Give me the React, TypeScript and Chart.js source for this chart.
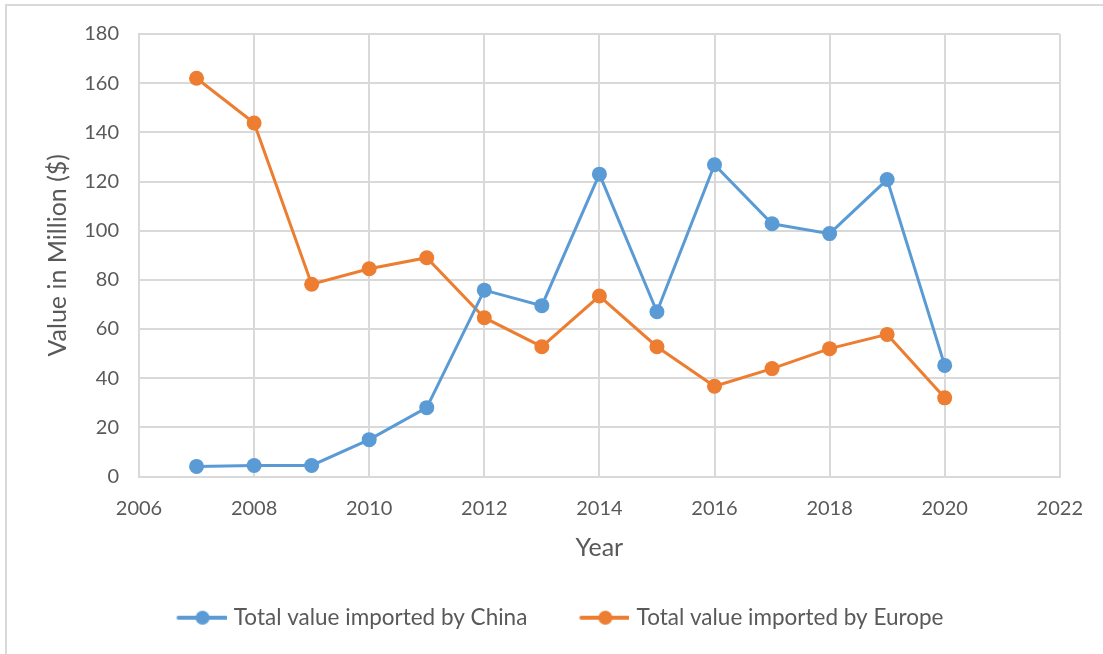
import React, { useEffect, useRef } from "react";
import { Chart, registerables } from "chart.js";

Chart.register(...registerables);

const years = [2007, 2008, 2009, 2010, 2011, 2012, 2013, 2014, 2015, 2016, 2017, 2018, 2019, 2020];
const chinaValues = [4.1, 4.5, 4.5, 15, 28, 75.8, 69.5, 123, 67, 126.8, 102.8, 98.8, 120.8, 45.2];
const europeValues = [162, 143.8, 78.2, 84.5, 89, 64.6, 52.8, 73.4, 52.8, 36.7, 43.9, 52, 57.8, 32];
const seriesLabels = ["Total value imported by China", "Total value imported by Europe"];
const xTitle = "Year";
const yTitle = "Value in Million ($)";

const BLUE = "#5B9BD5";
const ORANGE = "#ED7D31";
const TEXT = "#595959";
const GRID = "#D9D9D9";
const FONT = "Lato, 'Open Sans', sans-serif";

function makeLegendImage(color: string) {
  const c = document.createElement("canvas");
  c.width = 96;
  c.height = 16;
  const ctx = c.getContext("2d")!;
  ctx.strokeStyle = color;
  ctx.lineWidth = 4;
  ctx.lineCap = "round";
  ctx.beginPath();
  ctx.moveTo(48, 8);
  ctx.lineTo(95, 8);
  ctx.stroke();
  ctx.fillStyle = color;
  ctx.beginPath();
  ctx.arc(72, 8, 7, 0, Math.PI * 2);
  ctx.fill();
  return c;
}

export default function App() {
  const ref = useRef<HTMLCanvasElement>(null);
  useEffect(() => {
    document.body.style.margin = "0";
    const blueImg = makeLegendImage(BLUE);
    const orangeImg = makeLegendImage(ORANGE);
    const chart = new Chart(ref.current!, {
      type: "line",
      data: {
        datasets: [
          {
            label: seriesLabels[0],
            data: years.map((x, i) => ({ x, y: chinaValues[i] })),
            borderColor: BLUE,
            backgroundColor: BLUE,
            borderWidth: 3,
            pointRadius: 7.5,
            pointHoverRadius: 7.5,
            pointBorderWidth: 0,
            pointStyle: "circle",
            tension: 0,
          },
          {
            label: seriesLabels[1],
            data: years.map((x, i) => ({ x, y: europeValues[i] })),
            borderColor: ORANGE,
            backgroundColor: ORANGE,
            borderWidth: 3,
            pointRadius: 7.5,
            pointHoverRadius: 7.5,
            pointBorderWidth: 0,
            pointStyle: "circle",
            tension: 0,
          },
        ],
      },
      options: {
        responsive: false,
        animation: false,
        layout: { padding: { left: 17, right: 42, top: 34, bottom: 15 } },
        plugins: {
          tooltip: { enabled: false },
          legend: {
            position: "bottom",
            labels: {
              usePointStyle: true,
              pointStyleWidth: 88,
              padding: 10,
              color: TEXT,
              font: { family: FONT, size: 22.5 },
              generateLabels: (ch: any) =>
                ch.data.datasets.map((d: any, i: number) => ({
                  text: d.label,
                  fillStyle: d.borderColor,
                  strokeStyle: d.borderColor,
                  lineWidth: 0,
                  pointStyle: i === 0 ? blueImg : orangeImg,
                  datasetIndex: i,
                  fontColor: TEXT,
                  hidden: false,
                })),
            },
          },
        },
        scales: {
          x: {
            type: "linear",
            min: 2006,
            max: 2022,
            afterFit: (s: any) => {
              s.height = 120;
            },
            ticks: {
              stepSize: 2,
              padding: 20,
              color: TEXT,
              font: { family: FONT, size: 20 },
              callback: (v: any) => String(v),
              maxRotation: 0,
            },
            grid: { color: GRID, lineWidth: 2, drawTicks: false },
            border: { color: GRID, width: 2 },
            title: {
              display: true,
              text: xTitle,
              color: TEXT,
              font: { family: FONT, size: 25 },
              padding: { top: 4, bottom: 34 },
            },
          },
          y: {
            min: 0,
            max: 180,
            afterFit: (s: any) => {
              s.width = 122;
            },
            ticks: {
              stepSize: 20,
              padding: 20,
              color: TEXT,
              font: { family: FONT, size: 20 },
            },
            grid: { color: GRID, lineWidth: 2, drawTicks: false },
            border: { color: GRID, width: 2 },
            title: {
              display: true,
              text: yTitle,
              color: TEXT,
              font: { family: FONT, size: 25 },
              padding: { top: 26, bottom: 4 },
            },
          },
        },
      },
    });
    return () => chart.destroy();
  }, []);
  return (
    <div style={{ position: "relative", width: 1103, height: 654, background: "#fff" }}>
      <div style={{ position: "absolute", left: 5, top: 4, right: 0, height: 2, background: GRID }} />
      <div style={{ position: "absolute", left: 5, top: 4, bottom: 0, width: 2, background: GRID }} />
      <canvas ref={ref} width={1103} height={654} style={{ position: "absolute", left: 0, top: 0 }} />
    </div>
  );
}
